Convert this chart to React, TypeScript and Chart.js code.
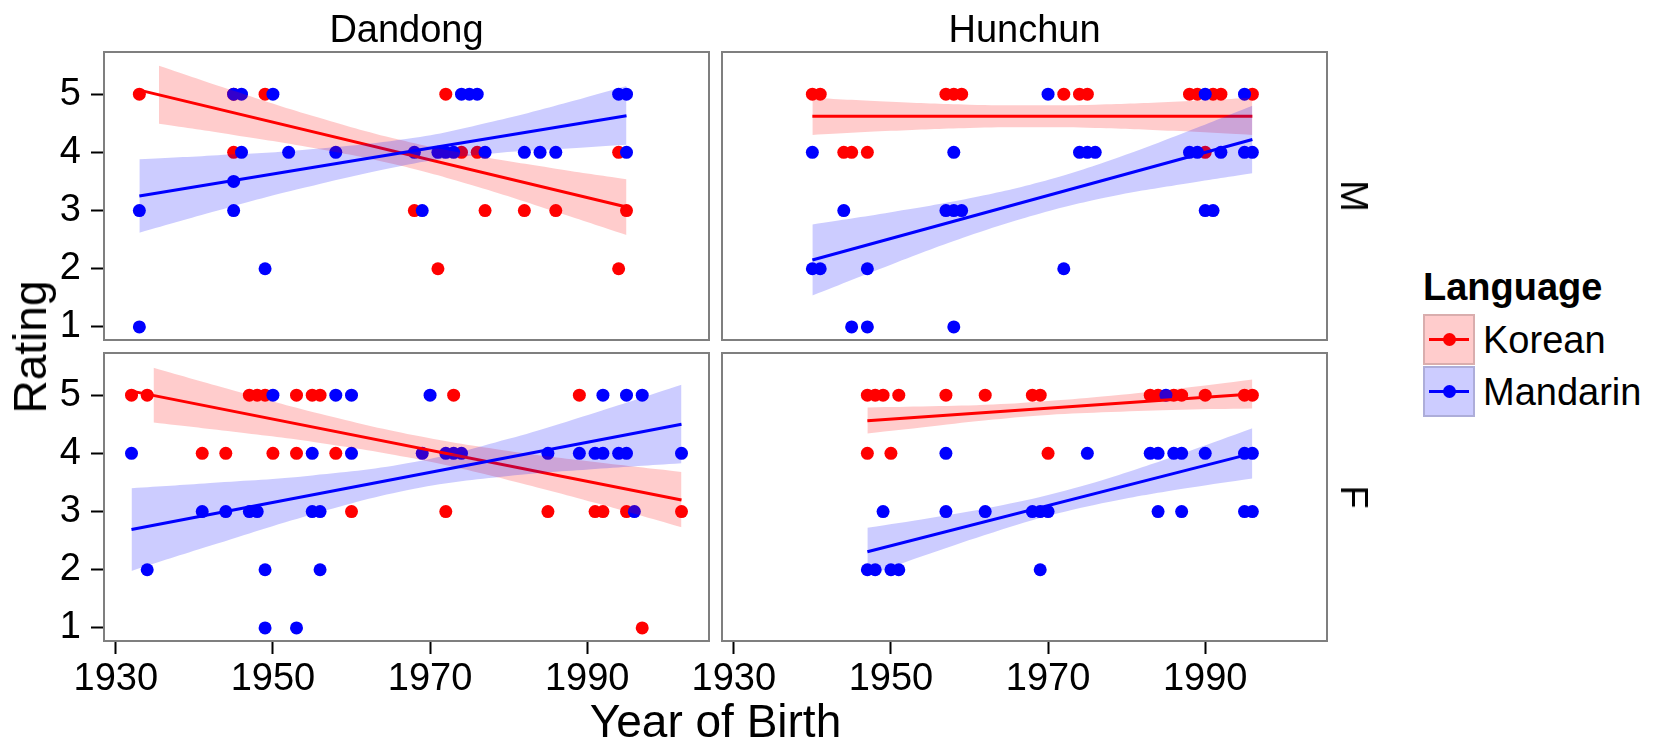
import React, { useEffect, useRef } from "react";
import { Chart, registerables } from "chart.js";

Chart.register(...registerables);

// ---------------- data ----------------
const facetColumns = ["Dandong", "Hunchun"];
const facetRows = ["M", "F"];
const languages = ["Korean", "Mandarin"];
const xTickValues = [1930, 1950, 1970, 1990];
const yTickValues = [1, 2, 3, 4, 5];
const xLimits = [1928.5, 2005.5];
const yLimits = [0.775, 5.725];

// Dandong / M
const dmKoreanYear = [1933, 1945, 1949, 1972, 1945, 1974, 1976, 1994, 1968, 1977, 1982, 1986, 1995, 1971, 1994];
const dmKoreanRating = [5, 5, 5, 5, 4, 4, 4, 4, 3, 3, 3, 3, 3, 2, 2];
const dmMandarinYear = [1945, 1946, 1950, 1974, 1975, 1976, 1994, 1995, 1946, 1952, 1958, 1968, 1971, 1972, 1973, 1977, 1982, 1984, 1986, 1995, 1945, 1933, 1945, 1969, 1949, 1933];
const dmMandarinRating = [5, 5, 5, 5, 5, 5, 5, 5, 4, 4, 4, 4, 4, 4, 4, 4, 4, 4, 4, 4, 3.5, 3, 3, 3, 2, 1];
const dmKoreanFitYear = [1933, 1995];
const dmKoreanFit = [5.07, 3.06];
const dmKoreanBandYear = [1935.5, 1945, 1955, 1966, 1976, 1986, 1995];
const dmKoreanBandLow = [4.49, 4.3, 4.08, 3.78, 3.41, 2.98, 2.58];
const dmKoreanBandHigh = [5.49, 5.06, 4.63, 4.22, 3.94, 3.72, 3.54];
const dmMandarinFitYear = [1933, 1995];
const dmMandarinFit = [3.25, 4.63];
const dmMandarinBandYear = [1933, 1943, 1953, 1968, 1978, 1987, 1995];
const dmMandarinBandLow = [2.62, 3.0, 3.36, 3.81, 3.98, 4.06, 4.13];
const dmMandarinBandHigh = [3.88, 3.95, 4.03, 4.25, 4.53, 4.84, 5.14];

// Hunchun / M
const hmKoreanYear = [1940, 1941, 1957, 1958, 1959, 1972, 1974, 1975, 1988, 1989, 1991, 1992, 1996, 1944, 1945, 1947, 1990];
const hmKoreanRating = [5, 5, 5, 5, 5, 5, 5, 5, 5, 5, 5, 5, 5, 4, 4, 4, 4];
const hmMandarinYear = [1970, 1990, 1995, 1940, 1958, 1974, 1975, 1976, 1988, 1989, 1992, 1995, 1996, 1944, 1957, 1958, 1959, 1990, 1991, 1940, 1941, 1947, 1972, 1945, 1947, 1958];
const hmMandarinRating = [5, 5, 5, 4, 4, 4, 4, 4, 4, 4, 4, 4, 4, 3, 3, 3, 3, 3, 3, 2, 2, 2, 2, 1, 1, 1];
const hmKoreanFitYear = [1940, 1996];
const hmKoreanFit = [4.62, 4.62];
const hmKoreanBandYear = [1940, 1950, 1960, 1968, 1976, 1986, 1996];
const hmKoreanBandLow = [4.3, 4.37, 4.42, 4.43, 4.42, 4.37, 4.3];
const hmKoreanBandHigh = [4.94, 4.87, 4.82, 4.81, 4.82, 4.87, 4.94];
const hmMandarinFitYear = [1940, 1996];
const hmMandarinFit = [2.15, 4.22];
const hmMandarinBandYear = [1940, 1950, 1960, 1969, 1978, 1987, 1996];
const hmMandarinBandLow = [1.54, 2.07, 2.57, 2.95, 3.24, 3.45, 3.64];
const hmMandarinBandHigh = [2.76, 2.97, 3.21, 3.49, 3.87, 4.32, 4.8];

// Dandong / F
const dfKoreanYear = [1932, 1934, 1947, 1948, 1949, 1953, 1955, 1956, 1973, 1989, 1941, 1944, 1950, 1953, 1958, 1960, 1972, 1985, 1991, 1992, 1995, 2002, 1997];
const dfKoreanRating = [5, 5, 5, 5, 5, 5, 5, 5, 5, 5, 4, 4, 4, 4, 4, 3, 3, 3, 3, 3, 3, 3, 1];
const dfMandarinYear = [1950, 1958, 1960, 1970, 1992, 1995, 1997, 1932, 1955, 1960, 1969, 1972, 1973, 1974, 1985, 1989, 1991, 1992, 1994, 1995, 2002, 1941, 1944, 1947, 1948, 1955, 1956, 1996, 1934, 1949, 1956, 1949, 1953];
const dfMandarinRating = [5, 5, 5, 5, 5, 5, 5, 4, 4, 4, 4, 4, 4, 4, 4, 4, 4, 4, 4, 4, 4, 3, 3, 3, 3, 3, 3, 3, 2, 2, 2, 1, 1];
const dfKoreanFitYear = [1932, 2002];
const dfKoreanFit = [5.07, 3.2];
const dfKoreanBandYear = [1934.8, 1945, 1956, 1968, 1980, 1991, 2002];
const dfKoreanBandLow = [4.53, 4.37, 4.18, 3.91, 3.54, 3.15, 2.73];
const dfKoreanBandHigh = [5.47, 5.08, 4.68, 4.31, 4.04, 3.85, 3.68];
const dfMandarinFitYear = [1932, 2002];
const dfMandarinFit = [2.69, 4.5];
const dfMandarinBandYear = [1932, 1942, 1955, 1968, 1980, 1991, 2002];
const dfMandarinBandLow = [1.98, 2.41, 2.95, 3.39, 3.61, 3.73, 3.83];
const dfMandarinBandHigh = [3.4, 3.49, 3.62, 3.85, 4.25, 4.7, 5.18];

// Hunchun / F
const hfKoreanYear = [1947, 1948, 1949, 1951, 1957, 1962, 1968, 1969, 1983, 1984, 1986, 1987, 1990, 1995, 1996, 1947, 1950, 1970];
const hfKoreanRating = [5, 5, 5, 5, 5, 5, 5, 5, 5, 5, 5, 5, 5, 5, 5, 4, 4, 4];
const hfMandarinYear = [1985, 1957, 1975, 1983, 1984, 1986, 1987, 1990, 1995, 1996, 1949, 1957, 1962, 1968, 1969, 1970, 1984, 1987, 1995, 1996, 1947, 1948, 1950, 1951, 1969];
const hfMandarinRating = [5, 4, 4, 4, 4, 4, 4, 4, 4, 4, 3, 3, 3, 3, 3, 3, 3, 3, 3, 3, 2, 2, 2, 2, 2];
const hfKoreanFitYear = [1947, 1996];
const hfKoreanFit = [4.56, 5.02];
const hfKoreanBandYear = [1947, 1955, 1963, 1970, 1978, 1987, 1996];
const hfKoreanBandLow = [4.34, 4.46, 4.58, 4.66, 4.71, 4.75, 4.77];
const hfKoreanBandHigh = [4.79, 4.81, 4.84, 4.9, 4.99, 5.12, 5.27];
const hfMandarinFitYear = [1947, 1996];
const hfMandarinFit = [2.31, 4.0];
const hfMandarinBandYear = [1947, 1955, 1963, 1971, 1979, 1988, 1996];
const hfMandarinBandLow = [1.9, 2.28, 2.64, 2.96, 3.2, 3.41, 3.57];
const hfMandarinBandHigh = [2.72, 2.89, 3.08, 3.32, 3.63, 4.04, 4.43];

// ---------------- styling ----------------
const FONT = "'Liberation Sans', Arimo, Arial, Helvetica, sans-serif";
const RED = "#ff0000";
const BLUE = "#0000ff";
const RED_FILL = "rgba(255,0,0,0.2)";
const BLUE_FILL = "rgba(0,0,255,0.2)";
const SMALL = 38;
const BIG = 46;

const PANEL_W = 605;
const PANEL_H = 288;
const COL_LEFT = [104, 722];
const ROW_TOP = [52, 353];
const Y_AXIS_W = 100;
const X_AXIS_H = 80;

type Series = {
  year: number[]; rating: number[];
  fitYear: number[]; fit: number[];
  bandYear: number[]; bandLow: number[]; bandHigh: number[];
  color: string; fill: string;
};

const mk = (year, rating, fitYear, fit, bandYear, bandLow, bandHigh, color, fill): Series =>
  ({ year, rating, fitYear, fit, bandYear, bandLow, bandHigh, color, fill });

const panelSeries = [
  [
    [mk(dmKoreanYear, dmKoreanRating, dmKoreanFitYear, dmKoreanFit, dmKoreanBandYear, dmKoreanBandLow, dmKoreanBandHigh, RED, RED_FILL),
     mk(dmMandarinYear, dmMandarinRating, dmMandarinFitYear, dmMandarinFit, dmMandarinBandYear, dmMandarinBandLow, dmMandarinBandHigh, BLUE, BLUE_FILL)],
    [mk(hmKoreanYear, hmKoreanRating, hmKoreanFitYear, hmKoreanFit, hmKoreanBandYear, hmKoreanBandLow, hmKoreanBandHigh, RED, RED_FILL),
     mk(hmMandarinYear, hmMandarinRating, hmMandarinFitYear, hmMandarinFit, hmMandarinBandYear, hmMandarinBandLow, hmMandarinBandHigh, BLUE, BLUE_FILL)],
  ],
  [
    [mk(dfKoreanYear, dfKoreanRating, dfKoreanFitYear, dfKoreanFit, dfKoreanBandYear, dfKoreanBandLow, dfKoreanBandHigh, RED, RED_FILL),
     mk(dfMandarinYear, dfMandarinRating, dfMandarinFitYear, dfMandarinFit, dfMandarinBandYear, dfMandarinBandLow, dfMandarinBandHigh, BLUE, BLUE_FILL)],
    [mk(hfKoreanYear, hfKoreanRating, hfKoreanFitYear, hfKoreanFit, hfKoreanBandYear, hfKoreanBandLow, hfKoreanBandHigh, RED, RED_FILL),
     mk(hfMandarinYear, hfMandarinRating, hfMandarinFitYear, hfMandarinFit, hfMandarinBandYear, hfMandarinBandLow, hfMandarinBandHigh, BLUE, BLUE_FILL)],
  ],
];

const pts = (xs: number[], ys: number[]) => xs.map((x, i) => ({ x, y: ys[i] }));

function buildDatasets(kor: Series, man: Series) {
  const pointSet = (s: Series, order: number) => ({
    type: "scatter",
    data: pts(s.year, s.rating),
    showLine: false,
    pointRadius: 6.5,
    pointHoverRadius: 6.5,
    pointBorderWidth: 0,
    pointBackgroundColor: s.color,
    pointBorderColor: s.color,
    backgroundColor: s.color,
    borderColor: s.color,
    order,
  });
  const bandHigh = (s: Series, order: number) => ({
    type: "line",
    data: pts(s.bandYear, s.bandHigh),
    borderWidth: 1,
    borderColor: "rgba(0,0,0,0)",
    pointRadius: 0,
    tension: 0.4,
    fill: false,
    order,
  });
  const bandLow = (s: Series, order: number, target: number) => ({
    type: "line",
    data: pts(s.bandYear, s.bandLow),
    borderWidth: 1,
    borderColor: "rgba(0,0,0,0)",
    pointRadius: 0,
    tension: 0.4,
    fill: { target, above: s.fill, below: s.fill },
    backgroundColor: s.fill,
    order,
  });
  const fitLine = (s: Series, order: number) => ({
    type: "line",
    data: pts(s.fitYear, s.fit),
    borderWidth: 3,
    borderColor: s.color,
    pointRadius: 0,
    tension: 0,
    fill: false,
    order,
  });
  return [
    pointSet(kor, 7),
    pointSet(man, 6),
    bandHigh(kor, 5),
    bandLow(kor, 4, 2),
    fitLine(kor, 3),
    bandHigh(man, 2),
    bandLow(man, 1, 5),
    fitLine(man, 0),
  ];
}

const borderPlugin = {
  id: "panelBorder",
  afterDraw(chart: any) {
    const { ctx, chartArea: a } = chart;
    ctx.save();
    ctx.strokeStyle = "#7f7f7f";
    ctx.lineWidth = 2;
    ctx.strokeRect(a.left, a.top, a.right - a.left, a.bottom - a.top);
    ctx.restore();
  },
};

function Panel({ row, col }: { row: number; col: number }) {
  const ref = useRef<HTMLCanvasElement>(null);
  const showY = col === 0;
  const showX = row === 1;
  const padLeft = showY ? 4 : 50;
  const padTop = 40;
  const padRight = 50;
  const padBottom = showX ? 4 : 40;
  const w = padLeft + (showY ? Y_AXIS_W : 0) + PANEL_W + padRight;
  const h = padTop + PANEL_H + (showX ? X_AXIS_H : 0) + padBottom;
  const left = COL_LEFT[col] - padLeft - (showY ? Y_AXIS_W : 0);
  const top = ROW_TOP[row] - padTop;

  useEffect(() => {
    const [kor, man] = panelSeries[row][col];
    const tickGrid = {
      drawOnChartArea: false,
      drawTicks: true,
      tickLength: 13,
      tickWidth: 2,
      tickColor: "#000",
      color: "#000",
    };
    const xScale: any = {
      type: "linear",
      min: xLimits[0],
      max: xLimits[1],
      display: showX,
      afterBuildTicks: (s: any) => { s.ticks = xTickValues.map((v) => ({ value: v })); },
      grid: tickGrid,
      border: { display: false },
      ticks: {
        color: "#000",
        font: { family: FONT, size: SMALL },
        padding: 3,
        maxRotation: 0,
        minRotation: 0,
        autoSkip: false,
        callback: (v: any) => String(v),
      },
    };
    if (showX) xScale.afterFit = (s: any) => { s.height = X_AXIS_H; };
    const yScale: any = {
      type: "linear",
      min: yLimits[0],
      max: yLimits[1],
      display: showY,
      afterBuildTicks: (s: any) => { s.ticks = yTickValues.map((v) => ({ value: v })); },
      grid: tickGrid,
      border: { display: false },
      ticks: {
        color: "#000",
        font: { family: FONT, size: SMALL },
        padding: 10,
        autoSkip: false,
        callback: (v: any) => String(v),
      },
    };
    if (showY) yScale.afterFit = (s: any) => { s.width = Y_AXIS_W; };

    const chart = new Chart(ref.current as HTMLCanvasElement, {
      type: "scatter",
      data: { datasets: buildDatasets(kor, man) as any },
      options: {
        animation: false,
        responsive: false,
        maintainAspectRatio: false,
        devicePixelRatio: 1,
        events: [],
        layout: { padding: { left: padLeft, right: padRight, top: padTop, bottom: padBottom } },
        plugins: { legend: { display: false }, tooltip: { enabled: false }, title: { display: false } },
        scales: { x: xScale, y: yScale },
      } as any,
      plugins: [borderPlugin],
    });
    return () => chart.destroy();
  }, []);

  return (
    <canvas
      ref={ref}
      width={w}
      height={h}
      style={{ position: "absolute", left, top, width: w, height: h }}
    />
  );
}

function Text({ text, x, baseline, size, bold = false, align = "center" }: any) {
  return (
    <div
      style={{
        position: "absolute",
        left: x,
        top: baseline - 0.8465 * size,
        fontSize: size,
        lineHeight: `${size}px`,
        fontWeight: bold ? "bold" : "normal",
        fontFamily: FONT,
        whiteSpace: "nowrap",
        color: "#000",
        transform: align === "center" ? "translateX(-50%)" : "none",
      }}
    >
      {text}
    </div>
  );
}

function RotText({ text, cx, cy, size, angle }: any) {
  return (
    <div
      style={{
        position: "absolute",
        left: cx,
        top: cy,
        fontSize: size,
        lineHeight: `${size}px`,
        fontFamily: FONT,
        whiteSpace: "nowrap",
        color: "#000",
        transform: `translate(-50%, -50%) rotate(${angle}deg)`,
      }}
    >
      {text}
    </div>
  );
}

function LegendKey({ top, color, fill }: any) {
  return (
    <div
      style={{
        position: "absolute",
        left: 1423,
        top,
        width: 52,
        height: 51,
        boxSizing: "border-box",
        background: fill,
        border: "2px solid rgba(0,0,0,0.15)",
      }}
    >
      <div style={{ position: "absolute", left: 4, right: 4, top: 22, height: 3, background: color }} />
      <div
        style={{
          position: "absolute",
          left: 17.5,
          top: 17,
          width: 13,
          height: 13,
          borderRadius: "50%",
          background: color,
        }}
      />
    </div>
  );
}

export default function App() {
  const colCenter = COL_LEFT.map((l) => l + PANEL_W / 2);
  const rowCenter = ROW_TOP.map((t) => t + PANEL_H / 2);
  return (
    <div
      style={{
        position: "absolute",
        left: 0,
        top: 0,
        width: 1658,
        height: 744,
        overflow: "hidden",
        background: "#fff",
        fontFamily: FONT,
      }}
    >
      <Panel row={0} col={0} />
      <Panel row={0} col={1} />
      <Panel row={1} col={0} />
      <Panel row={1} col={1} />

      {facetColumns.map((c, i) => (
        <Text key={c} text={c} x={colCenter[i]} baseline={42} size={SMALL} />
      ))}
      {facetRows.map((r, i) => (
        <RotText key={r} text={r} cx={1354} cy={rowCenter[i]} size={SMALL} angle={90} />
      ))}

      <Text text="Year of Birth" x={(COL_LEFT[0] + COL_LEFT[1] + PANEL_W) / 2} baseline={737} size={BIG} />
      <RotText text="Rating" cx={30} cy={(ROW_TOP[0] + ROW_TOP[1] + PANEL_H) / 2} size={BIG} angle={-90} />

      <Text text="Language" x={1423} baseline={300} size={SMALL} bold align="start" />
      <LegendKey top={314} color={RED} fill={RED_FILL} />
      <LegendKey top={366} color={BLUE} fill={BLUE_FILL} />
      <Text text={languages[0]} x={1483} baseline={353} size={SMALL} align="start" />
      <Text text={languages[1]} x={1483} baseline={405} size={SMALL} align="start" />
    </div>
  );
}
